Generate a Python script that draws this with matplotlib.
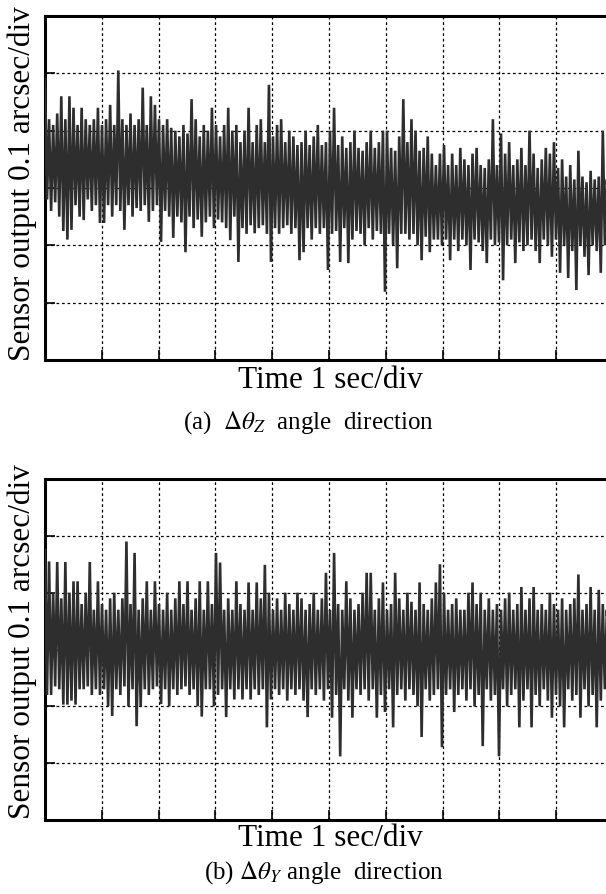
import numpy as np
import matplotlib
matplotlib.use("Agg")
import matplotlib.pyplot as plt

plt.rcParams["font.family"] = ["Liberation Serif", "DejaVu Serif"]
plt.rcParams["mathtext.fontset"] = "stix"

# sensor output (arcsec), read off the trace as alternating local peaks / troughs
# (a) delta theta_Z
peak_z = [
    0.19, 0.12, 0.11, 0.13, 0.16, 0.12, 0.16, 0.14, 0.11, 0.14,
    0.12, 0.11, 0.12, 0.14, 0.11, 0.12, 0.145, 0.11, 0.205, 0.12,
    0.11, 0.13, 0.11, 0.12, 0.175, 0.11, 0.16, 0.145, 0.12, 0.11,
    0.12, 0.105, 0.10, 0.09, 0.11, 0.095, 0.155, 0.12, 0.09, 0.11,
    0.10, 0.14, 0.11, 0.09, 0.11, 0.14, 0.10, 0.11, 0.08, 0.10,
    0.14, 0.08, 0.11, 0.12, 0.08, 0.18, 0.09, 0.11, 0.12, 0.08,
    0.10, 0.09, 0.075, 0.08, 0.10, 0.075, 0.09, 0.11, 0.075, 0.08,
    0.10, 0.14, 0.075, 0.09, 0.07, 0.08, 0.10, 0.07, 0.065, 0.08,
    0.10, 0.07, 0.08, 0.10, 0.10, 0.07, 0.065, 0.09, 0.155, 0.08,
    0.12, 0.10, 0.065, 0.07, 0.09, 0.06, 0.04, 0.06, 0.075, 0.04,
    0.06, 0.04, 0.07, 0.05, 0.04, 0.06, 0.07, 0.04, 0.035, 0.05,
    0.12, 0.04, 0.095, 0.06, 0.08, 0.04, 0.05, 0.07, 0.04, 0.10,
    0.06, 0.035, 0.05, 0.07, 0.06, 0.08, 0.035, 0.05, 0.02, 0.04,
    0.015, 0.065, 0.02, 0.01, 0.03, 0.015, 0.02, 0.10, 0.015, 0.03,
]
trough_z = [
    -0.02, -0.04, -0.025, -0.05, -0.075, -0.09, -0.073, -0.03, -0.05, -0.056,
    -0.02, -0.04, -0.03, -0.061, -0.061, -0.03, -0.05, -0.03, -0.04, -0.073,
    -0.03, -0.05, -0.035, -0.04, -0.03, -0.059, -0.04, -0.03, -0.094, -0.04,
    -0.05, -0.087, -0.05, -0.06, -0.112, -0.05, -0.07, -0.055, -0.085, -0.06,
    -0.05, -0.07, -0.055, -0.06, -0.07, -0.091, -0.05, -0.129, -0.07, -0.08,
    -0.065, -0.079, -0.07, -0.065, -0.08, -0.129, -0.07, -0.08, -0.07, -0.065,
    -0.08, -0.07, -0.126, -0.112, -0.07, -0.09, -0.07, -0.08, -0.07, -0.143,
    -0.08, -0.075, -0.129, -0.07, -0.131, -0.09, -0.075, -0.08, -0.10, -0.07,
    -0.09, -0.075, -0.08, -0.181, -0.08, -0.10, -0.14, -0.08, -0.08, -0.09,
    -0.08, -0.10, -0.126, -0.085, -0.112, -0.09, -0.09, -0.10, -0.09, -0.126,
    -0.09, -0.11, -0.09, -0.10, -0.143, -0.09, -0.095, -0.11, -0.131, -0.09,
    -0.10, -0.095, -0.161, -0.10, -0.09, -0.131, -0.095, -0.11, -0.10, -0.09,
    -0.11, -0.131, -0.09, -0.10, -0.12, -0.09, -0.148, -0.10, -0.157, -0.11,
    -0.178, -0.10, -0.12, -0.152, -0.10, -0.11, -0.148, -0.10, -0.12, -0.11,
]

# (b) delta theta_Y
peak_y = [
    0.175, 0.155, 0.10, 0.154, 0.09, 0.154, 0.10, 0.12, 0.12, 0.08,
    0.10, 0.154, 0.07, 0.12, 0.08, 0.07, 0.09, 0.10, 0.07, 0.09,
    0.19, 0.08, 0.17, 0.07, 0.09, 0.12, 0.07, 0.12, 0.08, 0.07,
    0.10, 0.07, 0.09, 0.12, 0.08, 0.12, 0.07, 0.09, 0.12, 0.07,
    0.12, 0.08, 0.17, 0.153, 0.07, 0.09, 0.07, 0.12, 0.08, 0.07,
    0.118, 0.07, 0.118, 0.09, 0.149, 0.10, 0.07, 0.09, 0.07, 0.10,
    0.08, 0.07, 0.10, 0.09, 0.07, 0.08, 0.10, 0.07, 0.09, 0.135,
    0.07, 0.17, 0.08, 0.07, 0.12, 0.09, 0.07, 0.08, 0.10, 0.135,
    0.135, 0.07, 0.09, 0.118, 0.07, 0.08, 0.135, 0.09, 0.07, 0.10,
    0.084, 0.07, 0.118, 0.08, 0.07, 0.09, 0.118, 0.15, 0.10, 0.07,
    0.08, 0.09, 0.07, 0.07, 0.10, 0.118, 0.08, 0.10, 0.07, 0.09,
    0.07, 0.08, 0.07, 0.09, 0.10, 0.07, 0.08, 0.11, 0.07, 0.09,
    0.11, 0.07, 0.08, 0.07, 0.10, 0.08, 0.07, 0.09, 0.07, 0.08,
    0.09, 0.132, 0.07, 0.08, 0.11, 0.07, 0.105, 0.08, 0.07, 0.09,
]
trough_y = [
    -0.08, -0.08, -0.065, -0.07, -0.097, -0.097, -0.09, -0.097, -0.07, -0.07,
    -0.065, -0.08, -0.07, -0.08, -0.07, -0.10, -0.117, -0.07, -0.08, -0.065,
    -0.10, -0.07, -0.135, -0.10, -0.07, -0.08, -0.07, -0.065, -0.096, -0.07,
    -0.10, -0.07, -0.08, -0.07, -0.065, -0.08, -0.07, -0.10, -0.118, -0.07,
    -0.07, -0.10, -0.08, -0.07, -0.119, -0.07, -0.088, -0.07, -0.088, -0.07,
    -0.088, -0.07, -0.08, -0.07, -0.137, -0.088, -0.07, -0.08, -0.07, -0.09,
    -0.07, -0.08, -0.07, -0.09, -0.119, -0.07, -0.08, -0.07, -0.09, -0.07,
    -0.12, -0.08, -0.188, -0.07, -0.09, -0.12, -0.07, -0.08, -0.07, -0.09,
    -0.07, -0.12, -0.08, -0.11, -0.07, -0.137, -0.08, -0.07, -0.09, -0.07,
    -0.08, -0.10, -0.154, -0.07, -0.09, -0.08, -0.07, -0.172, -0.08, -0.07,
    -0.11, -0.08, -0.07, -0.09, -0.07, -0.10, -0.08, -0.17, -0.07, -0.09,
    -0.08, -0.188, -0.07, -0.10, -0.08, -0.07, -0.137, -0.09, -0.07, -0.137,
    -0.08, -0.10, -0.07, -0.09, -0.12, -0.08, -0.10, -0.137, -0.07, -0.09,
    -0.08, -0.12, -0.07, -0.10, -0.08, -0.137, -0.09, -0.07, -0.10, -0.08,
]

captions = [r"(a)  $\Delta\theta_Z$  angle  direction",
            r"(b) $\Delta\theta_Y$ angle  direction"]

W, H = 606, 894
fig = plt.figure(figsize=(W / 100, H / 100), dpi=100)

# axes boxes in pixels: left, top, right, bottom (right edge runs off the page)
boxes = [(45, 16, 613, 360), (45, 479, 613, 820)]
ylabel_y = [184, 642]
xlabel_y = [380, 839]
caption_xy = [(308, 423), (324, 873)]


def trace(peaks, troughs):
    y = np.empty(2 * len(peaks))
    y[0::2] = peaks
    y[1::2] = troughs
    t = np.linspace(0, 10, len(y))
    return t, y


for k, (pk, tr) in enumerate([(peak_z, trough_z), (peak_y, trough_y)]):
    l, t, r, b = boxes[k]
    ax = fig.add_axes([l / W, 1 - b / H, (r - l) / W, (b - t) / H])
    tt, yy = trace(pk, tr)
    ax.plot(tt, yy, color="#2e2e2e", lw=1.9, zorder=3,
            solid_joinstyle="miter")
    ax.set_xlim(0, 10)
    ax.set_ylim(-0.3, 0.3)
    ax.set_xticks(np.arange(0, 11, 1))
    ax.set_yticks(np.arange(-0.3, 0.31, 0.1))
    ax.set_xticklabels([])
    ax.set_yticklabels([])
    ax.tick_params(direction="in", length=7, width=1.2, colors="black")
    ax.grid(True, color="black", linestyle=(0, (2.2, 2.2)), linewidth=0.9)
    for s in ax.spines.values():
        s.set_linewidth(2.2)
    fig.text(22 / W, 1 - ylabel_y[k] / H, "Sensor output 0.1 arcsec/div",
             rotation=90, ha="center", va="center", fontsize=22.5)
    fig.text(330 / W, 1 - xlabel_y[k] / H, "Time 1 sec/div",
             ha="center", va="center", fontsize=22.5)
    cx, cy = caption_xy[k]
    fig.text(cx / W, 1 - cy / H, captions[k], ha="center", va="center",
             fontsize=18)

fig.savefig("out.png", dpi=100)
